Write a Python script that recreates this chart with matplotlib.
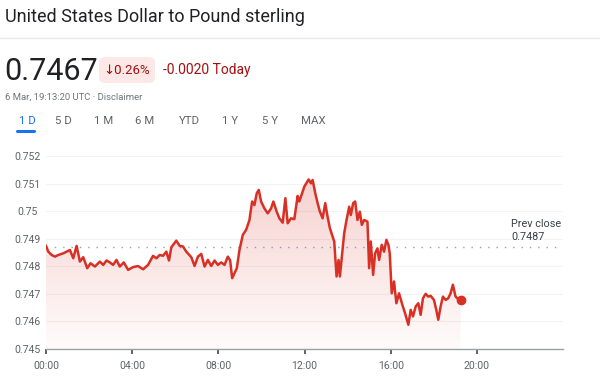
import numpy as np
import matplotlib
matplotlib.use("Agg")
import matplotlib.pyplot as plt
from matplotlib.patches import FancyBboxPatch

plt.rcParams['font.family'] = ['Roboto', 'DejaVu Sans']

# intraday USD -> GBP, hours since 00:00 UTC
hours = [
    0.000, 0.108, 0.262, 0.417, 0.571, 0.802, 0.957, 1.111, 1.265, 1.420,
    1.574, 1.728, 1.914, 2.068, 2.269, 2.500, 2.654, 2.809, 2.963, 3.117,
    3.272, 3.426, 3.611, 3.812, 4.043, 4.275, 4.506, 4.738, 4.969, 5.123,
    5.278, 5.432, 5.586, 5.710, 5.818, 6.049, 6.204, 6.358, 6.512, 6.744,
    6.898, 7.052, 7.207, 7.361, 7.515, 7.670, 7.824, 7.978, 8.133, 8.287,
    8.441, 8.549, 8.642, 8.750, 8.858, 8.981, 9.136, 9.290, 9.444, 9.568,
    9.676, 9.784, 9.877, 9.985, 10.139, 10.293, 10.448, 10.556, 10.710, 10.833,
    10.988, 11.111, 11.219, 11.373, 11.528, 11.682, 11.759, 11.991, 12.191, 12.299,
    12.377, 12.500, 12.608, 12.716, 12.840, 12.963, 13.071, 13.179, 13.302, 13.380,
    13.488, 13.580, 13.642, 13.735, 13.843, 13.951, 14.074, 14.151, 14.259, 14.352,
    14.460, 14.568, 14.660, 14.769, 14.923, 15.000, 15.077, 15.185, 15.278, 15.386,
    15.463, 15.586, 15.694, 15.802, 15.895, 15.957, 16.049, 16.157, 16.265, 16.389,
    16.543, 16.667, 16.821, 16.929, 17.037, 17.160, 17.284, 17.392, 17.500, 17.623,
    17.747, 17.855, 18.009, 18.117, 18.210, 18.318, 18.426, 18.549, 18.673, 18.781,
    18.889, 19.012, 19.136, 19.248,
]
rate = [
    0.74874, 0.74853, 0.74841, 0.74835, 0.74841, 0.74847, 0.74853, 0.74859, 0.74829, 0.74874,
    0.74817, 0.74833, 0.74793, 0.74811, 0.74799, 0.74817, 0.74805, 0.74821, 0.74814, 0.74805,
    0.74823, 0.74799, 0.74814, 0.74787, 0.74797, 0.74801, 0.74789, 0.74805, 0.74838, 0.74829,
    0.74841, 0.74838, 0.74853, 0.74821, 0.74869, 0.74893, 0.74874, 0.74872, 0.74853, 0.74833,
    0.74801, 0.74835, 0.74845, 0.74799, 0.74823, 0.74801, 0.74821, 0.74805, 0.74814, 0.74805,
    0.74835, 0.74821, 0.74757, 0.74775, 0.74793, 0.74859, 0.74914, 0.74932, 0.74968, 0.75035,
    0.75022, 0.75065, 0.75077, 0.75035, 0.75010, 0.74992, 0.75010, 0.75035, 0.74998, 0.74974,
    0.74958, 0.75047, 0.74956, 0.74974, 0.74971, 0.75055, 0.75035, 0.75089, 0.75115, 0.75101,
    0.75113, 0.75065, 0.75029, 0.74998, 0.74974, 0.75029, 0.74980, 0.74938, 0.74908, 0.74890,
    0.74763, 0.74823, 0.74763, 0.74835, 0.74920, 0.74968, 0.75016, 0.74986, 0.75029, 0.75035,
    0.74968, 0.74998, 0.74950, 0.74968, 0.74962, 0.74793, 0.74890, 0.74769, 0.74847, 0.74865,
    0.74823, 0.74878, 0.74853, 0.74896, 0.74878, 0.74847, 0.74702, 0.74745, 0.74666, 0.74702,
    0.74660, 0.74630, 0.74588, 0.74642, 0.74618, 0.74654, 0.74666, 0.74624, 0.74684, 0.74700,
    0.74690, 0.74693, 0.74678, 0.74642, 0.74606, 0.74654, 0.74690, 0.74678, 0.74684, 0.74702,
    0.74733, 0.74690, 0.74681, 0.74676,
]
prev_close = 0.7487
x_ticks = [0, 4, 8, 12, 16, 20]
x_labels = ["00:00", "04:00", "08:00", "12:00", "16:00", "20:00"]
y_ticks = [0.745, 0.746, 0.747, 0.748, 0.749, 0.75, 0.751, 0.752]
y_labels = ["0.745", "0.746", "0.747", "0.748", "0.749", "0.75", "0.751", "0.752"]
tabs = ["1 D", "5 D", "1 M", "6 M", "YTD", "1 Y", "5 Y", "MAX"]

RED = "#d93025"
W, H = 600, 381


def px(x, y):
    return x / W, 1 - y / H


fig = plt.figure(figsize=(6, 3.81), dpi=100)

# header
fig.text(*px(5, 17), "United States Dollar to Pound sterling", fontsize=13,
         color="#202124", va="center", ha="left")
fig.add_artist(plt.Line2D([0, 1], [1 - 38 / H] * 2, color="#e8eaed", lw=1))
fig.text(*px(4, 71), "0.7467", fontsize=22, color="#202124", va="center", ha="left")
badge = FancyBboxPatch(px(99, 83), 56 / W, 26 / H,
                       boxstyle="round,pad=0,rounding_size=0.012",
                       transform=fig.transFigure, fc="#fce8e6", ec="none")
fig.add_artist(badge)
fig.text(*px(127, 70), "\u2193" + "0.26%", fontsize=9.5, color="#a50e0e",
         va="center", ha="center")
fig.text(*px(163, 70), "-0.0020 Today", fontsize=10, color="#a50e0e",
         va="center", ha="left")
fig.text(*px(5, 97), "6 Mar, 19:13:20 UTC \u00b7 Disclaimer", fontsize=6.8,
         color="#70757a", va="center", ha="left")

tab_x = [27, 63, 104, 145, 189, 230, 270, 313]
for lbl, tx in zip(tabs, tab_x):
    fig.text(*px(tx, 121), lbl, fontsize=8.2, va="center", ha="center",
             color="#1a73e8" if lbl == "1 D" else "#5f6368")
fig.add_artist(plt.Line2D([17 / W, 34 / W], [1 - 131 / H] * 2,
                          color="#1a73e8", lw=2.2, solid_capstyle="round"))

# chart
ax = fig.add_axes([46 / W, 1 - 349 / H, (563 - 46) / W, (349 - 156) / H])
ax.set_xlim(0, 24)
ax.set_ylim(0.745, 0.752)

for yv in y_ticks[1:]:
    ax.axhline(yv, color="#f1f3f4", lw=0.8, zorder=0)
ax.axhline(prev_close, xmax=0.995, color="#9aa0a6", lw=1, ls=(0, (1, 5)), zorder=1)

# gradient fill under the line
poly = ax.fill_between(hours, rate, 0.745, color="none")
grad = np.zeros((100, 1, 4))
grad[..., 0], grad[..., 1], grad[..., 2] = 0.85, 0.19, 0.15
grad[:, 0, 3] = np.linspace(0.22, 0.02, 100)
img = ax.imshow(grad, aspect="auto", extent=[0, 24, 0.745, max(rate)],
                origin="upper", zorder=1)
img.set_clip_path(poly.get_paths()[0], transform=ax.transData)

ax.plot(hours, rate, color=RED, lw=1.8, zorder=3, solid_joinstyle="round")
ax.plot(hours[-1], rate[-1], "o", color=RED, ms=6, zorder=4)

ax.text(21.6, 0.7493, "Prev close\n0.7487", fontsize=7.8, color="#3c4043",
        va="center", ha="left", linespacing=1.3)

for s in ["top", "right", "left"]:
    ax.spines[s].set_visible(False)
ax.spines["bottom"].set_color("#9aa0a6")
ax.spines["bottom"].set_linewidth(1)

ax.set_xticks(x_ticks)
ax.set_xticklabels(x_labels)
ax.set_yticks(y_ticks)
ax.set_yticklabels(y_labels)
ax.tick_params(axis="x", length=3.5, width=1.4, color="#5f6368", pad=5,
               labelsize=7.6, labelcolor="#5f6368")
ax.tick_params(axis="y", length=0, pad=13, labelsize=7.6, labelcolor="#5f6368")
for t in ax.get_yticklabels():
    t.set_horizontalalignment("center")

fig.savefig("out.png", dpi=100, facecolor="white")
